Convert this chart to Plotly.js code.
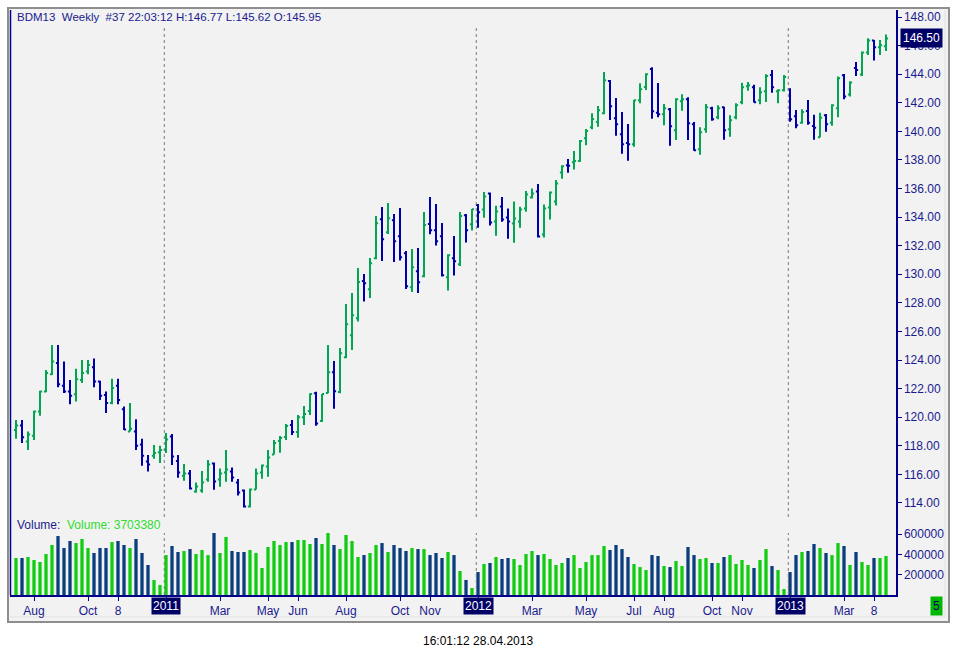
<!DOCTYPE html>
<html><head><meta charset="utf-8">
<script src="https://cdn.plot.ly/plotly-3.0.1.min.js"></script>
<style>html,body{margin:0;padding:0;background:#fff;}#chart{width:955px;height:659px;}</style>
</head><body><div id="chart"></div>
<script>
// ---------- DATA ----------
const firstWeek = '2010-07-12'; // Monday of first weekly bar
const opens = [119.11,119.43,118.30,118.70,120.40,121.80,123.00,123.80,122.20,121.80,121.60,122.60,123.20,123.50,122.50,121.55,121.00,122.20,120.55,119.00,
119.00,118.10,116.90,117.30,117.55,117.70,118.66,116.93,115.91,116.07,114.81,114.88,115.65,116.77,115.65,116.14,116.21,115.44,114.88,113.76,
114.95,116.14,116.56,117.40,118.33,118.61,119.45,118.96,119.99,120.43,121.67,119.74,121.70,123.14,121.77,124.19,125.73,126.92,129.53,128.95,
131.12,133.85,132.94,133.78,132.66,131.47,129.09,130.21,129.86,133.52,133.08,132.66,129.79,131.12,130.70,134.13,133.50,134.85,134.54,135.66,
133.70,134.75,133.98,133.56,133.70,134.61,135.38,135.80,132.79,134.68,135.10,137.13,137.62,137.83,137.92,139.51,140.28,140.65,141.26,143.52,
140.91,139.79,139.18,139.09,142.17,143.10,144.36,141.30,141.19,141.54,140.07,142.10,142.24,140.49,138.74,140.14,141.61,140.98,141.68,140.14,
140.98,142.03,143.15,143.08,142.17,142.80,143.94,142.80,142.87,142.94,141.05,140.61,141.42,140.38,139.58,141.12,140.61,141.61,143.92,142.57,
144.43,143.97,145.51,146.35,145.88,145.95];
const highs = [119.81,119.81,119.00,120.45,121.85,123.30,125.05,125.05,123.90,122.60,123.40,124.00,124.00,124.10,122.55,121.80,122.70,122.70,120.75,121.00,
119.85,118.50,117.35,118.05,118.00,118.90,118.82,117.35,116.72,116.30,115.44,116.23,117.00,116.84,116.42,117.70,116.49,115.67,114.95,115.02,
116.42,116.70,117.70,118.40,118.68,119.52,119.80,120.15,120.78,121.67,121.78,121.63,125.06,123.94,124.85,127.92,128.69,130.44,130.02,131.14,
134.08,134.71,134.99,134.22,134.64,131.63,131.77,131.84,134.36,135.41,134.92,133.59,131.40,132.68,134.36,134.22,134.57,134.92,135.76,135.73,
134.80,135.40,134.61,135.10,134.73,135.82,136.01,136.31,134.89,135.80,136.59,137.62,138.06,138.62,139.39,140.16,141.26,141.77,144.15,143.59,
142.33,141.35,140.51,142.19,143.36,144.06,144.48,143.38,141.91,141.63,142.31,142.59,142.38,140.65,140.28,141.91,141.73,141.82,141.73,141.12,
141.96,143.40,143.45,143.26,143.08,143.99,144.29,142.94,143.94,143.01,141.50,141.54,142.19,141.17,141.31,141.21,141.89,143.83,144.01,143.50,
144.85,145.58,146.51,146.39,146.39,146.77];
const lows = [118.50,118.20,117.70,118.40,120.10,121.75,122.95,122.10,121.70,120.90,121.10,122.40,123.00,122.10,121.20,120.30,120.90,120.90,119.10,119.00,
117.70,116.60,116.20,117.10,116.80,117.50,116.65,115.77,115.56,114.95,114.72,114.72,115.49,114.93,115.14,115.49,115.49,114.53,113.69,113.69,
114.95,115.70,115.84,117.40,117.52,118.40,118.75,118.57,119.45,120.15,119.41,119.67,121.67,120.60,121.67,124.12,124.71,126.69,128.09,128.34,
131.05,130.93,132.82,130.86,130.96,128.97,128.76,128.69,129.79,132.80,132.01,129.84,128.86,129.91,130.58,132.22,133.06,133.26,133.96,133.42,
132.70,133.68,132.49,132.21,133.26,134.38,135.31,132.58,132.58,133.84,134.82,136.69,137.11,137.34,137.88,139.02,140.14,140.33,141.19,140.79,
139.70,138.44,137.95,138.93,141.96,142.89,140.89,140.98,140.42,139.00,139.39,141.45,139.39,138.65,138.37,139.91,140.75,140.84,139.42,139.63,
140.84,141.89,142.84,142.01,141.89,142.05,142.70,141.96,142.78,140.68,140.21,140.54,140.47,139.42,139.58,139.98,140.40,140.98,142.24,142.43,
143.87,143.87,145.34,144.95,145.34,145.62];
const closes = [119.43,118.60,118.80,120.40,121.80,123.10,123.90,122.30,121.80,121.50,122.65,123.10,123.65,122.50,121.50,121.00,122.05,121.20,119.15,119.20,
118.00,117.30,116.70,117.50,117.70,118.45,117.26,116.14,116.07,115.02,115.16,115.44,116.70,115.51,116.07,116.35,115.79,114.74,113.76,114.95,
116.07,116.63,117.19,118.19,118.54,119.38,118.96,119.99,120.22,121.62,119.57,121.63,123.14,121.81,124.47,126.50,127.13,129.46,129.37,130.77,
133.57,132.45,133.92,132.31,131.19,129.16,130.49,129.44,133.45,133.08,132.31,129.93,131.33,130.91,134.08,133.08,134.55,134.34,135.45,133.63,
134.40,133.84,133.70,133.91,134.54,135.59,135.66,132.65,134.61,135.73,136.36,137.55,137.60,137.92,139.32,140.02,140.86,141.47,143.57,141.75,
140.49,139.09,139.09,142.17,142.94,143.99,141.40,141.19,141.61,140.35,142.24,142.24,140.56,138.67,139.93,141.68,140.84,141.61,140.07,140.77,
141.82,143.08,143.22,142.03,142.73,143.87,143.08,142.87,143.80,140.84,140.42,141.35,140.61,140.26,140.96,140.49,141.82,143.71,142.43,143.41,
144.29,145.51,146.35,145.88,146.02,146.50];
const volumes = [364000,364000,374000,344000,325000,403000,492000,580000,462000,531000,511000,551000,462000,413000,462000,462000,521000,531000,492000,462000,
551000,413000,295000,148000,98000,393000,482000,423000,433000,452000,403000,443000,393000,610000,413000,571000,433000,423000,423000,443000,
413000,266000,472000,531000,492000,521000,521000,541000,541000,502000,561000,502000,610000,492000,452000,590000,531000,374000,393000,413000,
492000,511000,423000,492000,462000,433000,462000,452000,452000,393000,413000,364000,423000,393000,236000,148000,69000,226000,305000,315000,
374000,354000,364000,354000,295000,403000,433000,393000,403000,354000,295000,315000,364000,393000,266000,325000,393000,393000,482000,443000,
492000,452000,374000,305000,275000,246000,393000,384000,285000,275000,334000,285000,472000,393000,354000,364000,315000,315000,374000,393000,
305000,344000,295000,266000,344000,452000,285000,246000,59000,226000,393000,423000,433000,502000,462000,413000,393000,511000,482000,295000,
423000,325000,295000,364000,364000,384000];
const tickDates = ['2010-08-02','2010-10-04','2010-11-08','2011-01-03','2011-03-07','2011-05-02','2011-06-06','2011-08-01','2011-10-03','2011-11-07',
'2012-01-02','2012-03-05','2012-05-07','2012-07-02','2012-08-06','2012-10-01','2012-11-05','2012-12-31','2013-03-04','2013-04-08'];
const tickLabels = ['Aug','Oct','8','2011','Mar','May','Jun','Aug','Oct','Nov','2012','Mar','May','Jul','Aug','Oct','Nov','2013','Mar','8'];
const priceTicks = [114,116,118,120,122,124,126,128,130,132,134,136,138,140,142,144,146,148];
const volTicks = [200000,400000,600000];
const titleText = 'BDM13\u00a0\u00a0Weekly\u00a0\u00a0#37 22:03:12 H:146.77 L:145.62 O:145.95';
const lastPrice = 146.50;
const lastVolume = 3703380;
const footerText = '16:01:12 28.04.2013';

// ---------- BUILD ----------
const DAY = 86400000, WEEK = 7 * DAY;
const t0 = Date.parse(firstWeek + 'T00:00:00Z');
const iso = t => new Date(t).toISOString().replace('T', ' ').slice(0, 19);
const weeks = opens.map((_, i) => iso(t0 + i * WEEK).slice(0, 10));
const xRange = [iso(t0 - WEEK), iso(t0 + (880 / 6) * WEEK)];

const NAVY = '#00008b', TXT = '#1a1a8e';
const UPC = '#00a651', DNC = '#0000a8', VUP = '#11cc11', VDN = '#0a3d7e';
const volColors = closes.map((c, i) => c >= opens[i] ? VUP : VDN);

// pixel -> paper helpers (plot area: x 10..896, y 10..595)
const PL = 10, PW = 886, PB = 595, PH = 585;
const px = v => (v - PL) / PW;
const py = v => (PB - v) / PH;
const split = py(518);

const isYear = s => /^\d{4}$/.test(s);
const shapes = [
  {type:'rect', xref:'paper', yref:'paper', x0:px(8), x1:px(949), y0:py(622), y1:py(8),
   fillcolor:'#f2f2f2', line:{color:'#8e8e8e', width:2}, layer:'below'},
  {type:'line', xref:'paper', yref:'paper', x0:px(10), x1:px(945), y0:py(617), y1:py(617), line:{color:'#e2e2e2', width:1}, layer:'below'},
  {type:'line', xref:'paper', yref:'paper', x0:px(945), x1:px(945), y0:py(617), y1:py(10), line:{color:'#e2e2e2', width:1}, layer:'below'},
  {type:'line', xref:'paper', yref:'paper', x0:px(10.5), x1:px(10.5), y0:0, y1:py(10), line:{color:NAVY, width:1.5}}
];
const annotations = [
  {xref:'paper', yref:'paper', x:px(15), y:py(17), xanchor:'left', yanchor:'middle', showarrow:false,
   text:titleText, font:{size:11.5, color:TXT}},
  {xref:'paper', yref:'paper', x:px(15), y:py(525), xanchor:'left', yanchor:'middle', showarrow:false,
   text:'Volume:\u00a0\u00a0<span style="color:#2fdc2f">Volume: ' + lastVolume + '</span>', font:{size:12, color:TXT}},
  {xref:'paper', yref:'y', x:px(900), y:lastPrice, xanchor:'left', yanchor:'middle', showarrow:false,
   text:lastPrice.toFixed(2), bgcolor:'#000066', borderpad:2, font:{size:12, color:'#ffffff'}},
  {xref:'paper', yref:'paper', x:px(936), y:py(606), xanchor:'center', yanchor:'middle', showarrow:false,
   text:'5', bgcolor:'#00b800', borderpad:2, font:{size:12, color:'#000060'}},
  {xref:'paper', yref:'paper', x:px(478), y:py(641), xanchor:'center', yanchor:'middle', showarrow:false,
   text:footerText, font:{size:12, color:'#000000'}}
];
tickLabels.forEach((lab, i) => {
  if (!isYear(lab)) return;
  const d = Date.parse(tickDates[i] + 'T00:00:00Z');
  const dx = iso(d - 2 * DAY);
  shapes.push({type:'line', xref:'x', yref:'paper', x0:dx, x1:dx, y0:py(517), y1:py(25), line:{color:'#7a7a7a', width:1, dash:'dot'}});
  shapes.push({type:'line', xref:'x', yref:'paper', x0:dx, x1:dx, y0:0, y1:py(533), line:{color:'#7a7a7a', width:1, dash:'dot'}});
  annotations.push({xref:'x', yref:'paper', x:tickDates[i], y:py(606), xanchor:'center', yanchor:'middle', showarrow:false,
    text:lab, bgcolor:'#000066', borderpad:1, font:{size:12, color:'#ffffff'}});
});

const traces = [
  {type:'ohlc', x:weeks, open:opens, high:highs, low:lows, close:closes, xaxis:'x', yaxis:'y',
   increasing:{line:{color:UPC, width:2}}, decreasing:{line:{color:DNC, width:2}},
   tickwidth:0.35, hoverinfo:'skip', showlegend:false},
  {type:'bar', x:weeks, y:volumes, xaxis:'x', yaxis:'y2', marker:{color:volColors, line:{width:0}},
   hoverinfo:'skip', showlegend:false}
];

const axisCommon = {showline:true, linecolor:NAVY, linewidth:1.5, ticks:'outside', ticklen:4, tickcolor:NAVY,
  showgrid:false, zeroline:false, fixedrange:true, tickfont:{size:12, color:TXT}};

const layout = {
  width:955, height:659, autosize:false,
  margin:{l:PL, r:955 - PL - PW, t:10, b:659 - PB, pad:0},
  paper_bgcolor:'#ffffff', plot_bgcolor:'#f2f2f2',
  font:{family:'"Liberation Sans", Arial, sans-serif', size:12, color:TXT},
  showlegend:false, bargap:0.45,
  xaxis:Object.assign({}, axisCommon, {type:'date', range:xRange, anchor:'y2',
    tickmode:'array', tickvals:tickDates, ticktext:tickLabels.map(l => isYear(l) ? ' ' : l),
    rangeslider:{visible:false}}),
  yaxis:Object.assign({}, axisCommon, {domain:[split, 1], range:[112.95, 148.49], side:'right', anchor:'x',
    tickmode:'array', tickvals:priceTicks, ticktext:priceTicks.map(v => v.toFixed(2))}),
  yaxis2:Object.assign({}, axisCommon, {domain:[0, split], range:[0, 757450], side:'right', anchor:'x',
    tickmode:'array', tickvals:volTicks, ticktext:volTicks.map(v => String(v))}),
  shapes:shapes, annotations:annotations
};

Plotly.newPlot('chart', traces, layout, {staticPlot:true, displayModeBar:false});
</script>
</body></html>
